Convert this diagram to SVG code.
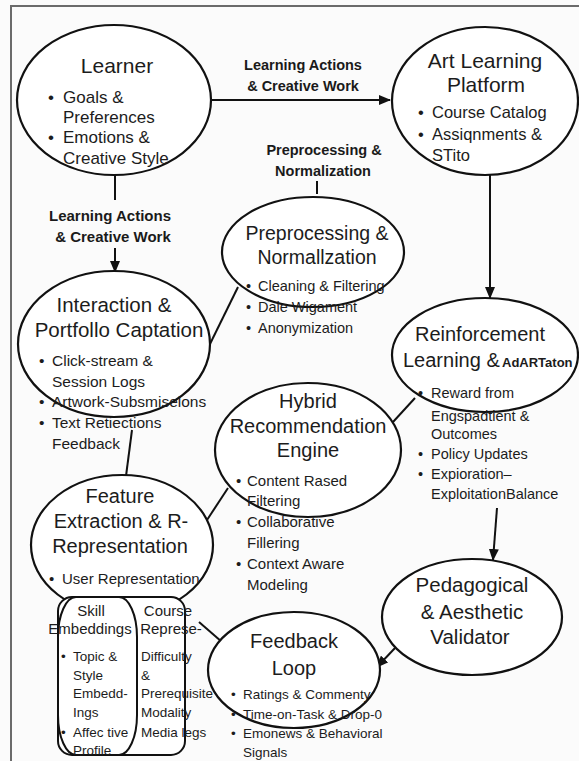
<svg xmlns="http://www.w3.org/2000/svg" width="579" height="761" viewBox="0 0 579 761">
  <defs>
    <marker id="arrow" viewBox="0 0 12 10" refX="11" refY="5" markerWidth="12" markerHeight="10" markerUnits="userSpaceOnUse" orient="auto">
      <path d="M0,0 L12,5 L0,10 Z" fill="#111"/>
    </marker>
    <style>
      text { font-family: "Liberation Sans", Arial, sans-serif; fill: #1c1c1c; }
      .node { fill: #fff; stroke: #111; stroke-width: 2.2; }
      .box { fill: #fff; stroke: #111; stroke-width: 2; }
      .edge { fill: none; stroke: #111; stroke-width: 2; }
      .title { text-anchor: middle; }
      .lbl { font-weight: bold; text-anchor: middle; fill: #1a1a1a; }
      .item { fill: #2b2b2b; }
      .frame { fill: none; stroke: #6b6b6b; stroke-width: 2; }
    </style>
  </defs>

  <rect width="579" height="761" fill="#fbfbfb"/>
  <path class="frame" d="M11,761 V6 H579"/>

  <!-- connectors -->
  <g id="connectors">
    <line class="edge" x1="211" y1="100" x2="390" y2="100" marker-end="url(#arrow)"/>
    <text class="lbl" x="303" y="70" font-size="14.5">Learning Actions</text>
    <text class="lbl" x="303" y="91" font-size="14.5">&amp; Creative Work</text>

    <line class="edge" x1="115" y1="175" x2="115" y2="200"/>
    <text class="lbl" x="110" y="221" font-size="15">Learning Actions</text>
    <text class="lbl" x="113" y="242" font-size="15">&amp; Creative Work</text>
    <line class="edge" x1="115" y1="248" x2="115" y2="272" marker-end="url(#arrow)"/>

    <text class="lbl" x="324" y="155" font-size="14.5">Preprocessing &amp;</text>
    <text class="lbl" x="323" y="176" font-size="14.5">Normalization</text>
    <line class="edge" x1="317" y1="181" x2="317" y2="194"/>

    <line class="edge" x1="490" y1="175" x2="490" y2="298" marker-end="url(#arrow)"/>
    <line class="edge" x1="209" y1="346" x2="238" y2="287"/>
    <line class="edge" x1="132" y1="430" x2="126" y2="476"/>
    <line class="edge" x1="207" y1="520" x2="228" y2="488"/>
    <line class="edge" x1="393" y1="422" x2="415" y2="398"/>
    <line class="edge" x1="497" y1="508" x2="493" y2="560" marker-end="url(#arrow)"/>
    <line class="edge" x1="395" y1="648" x2="377" y2="667" marker-end="url(#arrow)"/>
    <line class="edge" x1="199" y1="622" x2="222" y2="642"/>
  </g>

  <!-- Learner -->
  <g id="learner">
    <ellipse class="node" cx="114" cy="100" rx="97" ry="75"/>
    <text class="title" x="117" y="73" font-size="21">Learner</text>
    <g class="item" font-size="17">
      <text x="48" y="103">•</text><text x="63" y="103">Goals &amp;</text>
      <text x="63" y="123">Preferences</text>
      <text x="48" y="143">•</text><text x="63" y="143">Emotions &amp;</text>
      <text x="63" y="164">Creative Style</text>
    </g>
  </g>

  <!-- Art Learning Platform -->
  <g id="platform">
    <ellipse class="node" cx="485" cy="101" rx="93" ry="74"/>
    <text class="title" x="485" y="68" font-size="21">Art Learning</text>
    <text class="title" x="486" y="92" font-size="21">Platform</text>
    <g class="item" font-size="16.5">
      <text x="418" y="118">•</text><text x="432" y="118">Course Catalog</text>
      <text x="418" y="140">•</text><text x="432" y="140">Assiqnments &amp;</text>
      <text x="432" y="161">STito</text>
    </g>
  </g>

  <!-- Preprocessing & Normalization -->
  <g id="preprocessing">
    <ellipse class="node" cx="313" cy="252" rx="91" ry="55"/>
    <text class="title" x="317" y="240" font-size="19.5">Preprocessing &amp;</text>
    <text class="title" x="317" y="264" font-size="19.5">Normallzation</text>
    <g class="item" font-size="14.5">
      <text x="246" y="291">•</text><text x="258" y="291">Cleaning &amp; Filtering</text>
      <text x="246" y="312">•</text><text x="258" y="312">Dale Wigament</text>
      <text x="246" y="333">•</text><text x="258" y="333">Anonymization</text>
    </g>
  </g>

  <!-- Interaction & Portfolio Capture -->
  <g id="interaction">
    <ellipse class="node" cx="114" cy="344" rx="96" ry="73"/>
    <text class="title" x="114" y="312" font-size="20.5">Interaction &amp;</text>
    <text class="title" x="119" y="337" font-size="20.5">Portfollo Captation</text>
    <g class="item" font-size="15.5">
      <text x="39" y="366">•</text><text x="52" y="366">Click-stream &amp;</text>
      <text x="52" y="387">Session Logs</text>
      <text x="39" y="407">•</text><text x="52" y="407">Artwork-Subsmiselons</text>
      <text x="39" y="428">•</text><text x="52" y="428">Text Retiections</text>
      <text x="52" y="449">Feedback</text>
    </g>
  </g>

  <!-- Reinforcement Learning & Adaptation -->
  <g id="reinforcement">
    <ellipse class="node" cx="485" cy="355" rx="93" ry="57"/>
    <text class="title" x="480" y="341" font-size="20">Reinforcement</text>
    <text x="403" y="367" font-size="20">Learning &amp;</text>
    <text x="502" y="367" font-size="13" font-weight="bold">AdARTaton</text>
    <g class="item" font-size="14.5">
      <text x="418" y="398">•</text><text x="431" y="398">Reward from</text>
      <text x="431" y="421">Engspadtient &amp;</text>
      <text x="431" y="439">Outcomes</text>
      <text x="418" y="459">•</text><text x="431" y="459">Policy Updates</text>
      <text x="418" y="479">•</text><text x="431" y="479">Expioration–</text>
      <text x="431" y="499">ExploitationBalance</text>
    </g>
  </g>

  <!-- Hybrid Recommendation Engine -->
  <g id="hybrid">
    <ellipse class="node" cx="308" cy="450" rx="93" ry="67"/>
    <text class="title" x="308" y="408" font-size="20">Hybrid</text>
    <text class="title" x="308" y="433" font-size="20">Recommendation</text>
    <text class="title" x="308" y="457" font-size="20">Engine</text>
    <g class="item" font-size="15">
      <text x="236" y="486">•</text><text x="247" y="486">Content Rased</text>
      <text x="247" y="506">Filtering</text>
      <text x="236" y="527">•</text><text x="247" y="527">Collaborative</text>
      <text x="247" y="548">Fillering</text>
      <text x="236" y="569">•</text><text x="247" y="569">Context Aware</text>
      <text x="247" y="590">Modeling</text>
    </g>
  </g>

  <!-- Feature Extraction & Representation -->
  <g id="feature">
    <ellipse class="node" cx="122" cy="545" rx="91" ry="70"/>
    <text class="title" x="120" y="503" font-size="20">Feature</text>
    <text class="title" x="121" y="528" font-size="20">Extraction &amp; R-</text>
    <text class="title" x="120" y="553" font-size="20">Representation</text>
    <g class="item" font-size="15">
      <text x="49" y="584">•</text><text x="62" y="584">User Representation</text>
    </g>
  </g>

  <!-- Embedding sub-panels -->
  <g id="embeddings">
    <rect class="box" x="58" y="597" width="127" height="158" rx="14" ry="14"/>
    <rect class="box" x="58" y="597" width="79" height="158" rx="18" ry="40" fill="none"/>
    <text class="title" x="91" y="616" font-size="15">Skill</text>
    <text class="title" x="90" y="634" font-size="15">Embeddings</text>
    <g class="item" font-size="13.5">
      <text x="61" y="661">•</text><text x="73" y="661">Topic &amp;</text>
      <text x="73" y="680">Style</text>
      <text x="73" y="698">Embedd-</text>
      <text x="73" y="717">Ings</text>
      <text x="61" y="737">•</text><text x="73" y="737">Affec tive</text>
      <text x="73" y="755">Profile</text>
    </g>
    <text class="title" x="168" y="616" font-size="15">Course</text>
    <text class="title" x="171" y="634" font-size="15">Represe-</text>
    <g class="item" font-size="13.5">
      <text x="141" y="661">Difficulty</text>
      <text x="141" y="680">&amp;</text>
      <text x="141" y="698">Prerequisite</text>
      <text x="141" y="717">Modality</text>
      <text x="141" y="737">Media legs</text>
    </g>
  </g>

  <!-- Pedagogical & Aesthetic Validator -->
  <g id="validator">
    <ellipse class="node" cx="472" cy="617" rx="90" ry="58"/>
    <text class="title" x="472" y="592" font-size="20.5">Pedagogical</text>
    <text class="title" x="472" y="619" font-size="20.5">&amp; Aesthetic</text>
    <text class="title" x="470" y="644" font-size="20.5">Validator</text>
  </g>

  <!-- Feedback Loop -->
  <g id="feedback">
    <ellipse class="node" cx="294" cy="670" rx="86" ry="58"/>
    <text class="title" x="294" y="648" font-size="20">Feedback</text>
    <text class="title" x="294" y="675" font-size="20">Loop</text>
    <g class="item" font-size="13.5">
      <text x="231" y="699">•</text><text x="243" y="699">Ratings &amp; Commenty</text>
      <text x="231" y="719">•</text><text x="243" y="719">Time-on-Task &amp; Drop-0</text>
      <text x="231" y="738">•</text><text x="243" y="738">Emonews &amp; Behavioral</text>
      <text x="243" y="757">Signals</text>
    </g>
  </g>
</svg>
